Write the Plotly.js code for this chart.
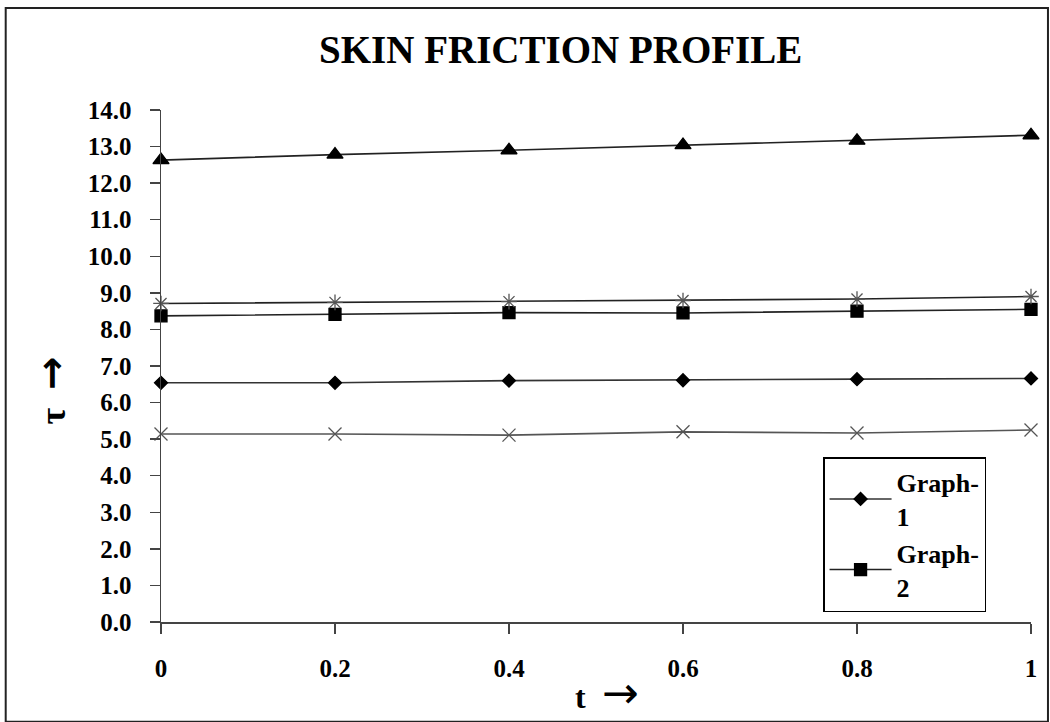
<!DOCTYPE html>
<html>
<head>
<meta charset="utf-8">
<script src="https://cdn.plot.ly/plotly-3.0.1.min.js"></script>
<style>html,body{margin:0;padding:0;background:#fff;}#chart{width:1050px;height:722px;}</style>
</head>
<body>
<div id="chart"></div>
<script>
var t = [0, 0.2, 0.4, 0.6, 0.8, 1];
var graph1 = [6.54, 6.54, 6.60, 6.61, 6.64, 6.66];
var graph2 = [8.37, 8.41, 8.46, 8.45, 8.50, 8.55];
var graph3 = [12.63, 12.78, 12.90, 13.04, 13.16, 13.31];
var graph4 = [5.14, 5.14, 5.11, 5.20, 5.17, 5.25];
var graph5 = [8.71, 8.74, 8.76, 8.79, 8.83, 8.90];
var names = ['Graph-<br>1', 'Graph-<br>2', 'Graph-<br>3', 'Graph-<br>4', 'Graph-<br>5'];
var yTicks = [0,1,2,3,4,5,6,7,8,9,10,11,12,13,14];
var xTicks = [0, 0.2, 0.4, 0.6, 0.8, 1];
var xTickText = ['0', '0.2', '0.4', '0.6', '0.8', '1'];

var FONT = '"Liberation Serif", "Times New Roman", serif';
var lineCol = '#222';

function tr(y, name, sym, size, mcol, show) {
  return {
    x: t, y: y, name: name, type: 'scatter', mode: 'lines+markers',
    line: {color: lineCol, width: 1.6},
    marker: {symbol: sym, size: size, color: mcol, line: {color: mcol, width: 1.3}},
    showlegend: show, cliponaxis: false
  };
}

var data = [
  tr(graph1, names[0], 'diamond', 10, '#000', true),
  tr(graph2, names[1], 'square', 12, '#000', true),
  tr(graph3, names[2], 'triangle-up', 14, '#000', false),
  tr(graph4, names[3], 'x-thin-open', 13, '#555', false),
  tr(graph5, names[4], 'asterisk-open', 13, '#555', false)
];
data[0].line.color = '#333';
data[3].line.color = '#555';

var layout = {
  width: 1050, height: 722,
  margin: {l: 161, r: 19, t: 110, b: 100},
  paper_bgcolor: '#fff', plot_bgcolor: '#fff',
  font: {family: FONT, color: '#000'},
  title: {text: '<b>SKIN FRICTION PROFILE</b>', font: {family: FONT, size: 39, color: '#000'},
          x: 0.534, xref: 'container', xanchor: 'center', y: 0.932, yref: 'container', yanchor: 'middle'},
  xaxis: {
    range: [0, 1], tickvals: xTicks, ticktext: xTickText,
    showgrid: false, zeroline: false, showline: true, linecolor: '#444', linewidth: 1.5,
    ticks: 'outside', ticklen: 10, tickcolor: '#444', tickwidth: 1.5,
    ticklabelstandoff: 13,
    tickfont: {family: FONT, size: 25, color: '#000', weight: 'bold'}
  },
  yaxis: {
    range: [0, 14], tickvals: yTicks, tickformat: '.1f',
    showgrid: false, zeroline: false, showline: true, linecolor: '#444', linewidth: 1.5,
    ticks: 'outside', ticklen: 10, tickcolor: '#444', tickwidth: 1.5,
    ticklabelstandoff: 13,
    tickfont: {family: FONT, size: 25, color: '#000', weight: 'bold'}
  },
  legend: {
    x: 0.761, y: 0.322, xanchor: 'left', yanchor: 'top',
    bordercolor: '#000', borderwidth: 1.5, bgcolor: '#fff',
    font: {family: FONT, size: 26, color: '#000', weight: 'bold'},
    tracegroupgap: 0, itemwidth: 62
  },
  annotations: [
    {text: '<b>t</b>  <span style="font-family:DejaVu Sans;font-size:44px">→</span>', xref: 'paper', yref: 'paper', x: 0.5126, y: -0.137,
     showarrow: false, font: {family: FONT, size: 32, color: '#000'}, xanchor: 'center', yanchor: 'middle'},
    {text: '<b>τ  <span style="font-family:DejaVu Sans;font-size:40px">→</span></b>', xref: 'paper', yref: 'paper',
     x: -0.126, y: 0.453, textangle: -90,
     showarrow: false, font: {family: FONT, size: 36, color: '#000'}, xanchor: 'center', yanchor: 'middle'}
  ],
  shapes: [
    {type: 'rect', xref: 'paper', yref: 'paper', x0: -0.1785, x1: 1.0195, y0: -0.195, y1: 1.199,
     line: {color: '#222', width: 2}, fillcolor: 'rgba(0,0,0,0)', layer: 'below'}
  ]
};

Plotly.newPlot('chart', data, layout, {displayModeBar: false, staticPlot: true});
</script>
</body>
</html>
